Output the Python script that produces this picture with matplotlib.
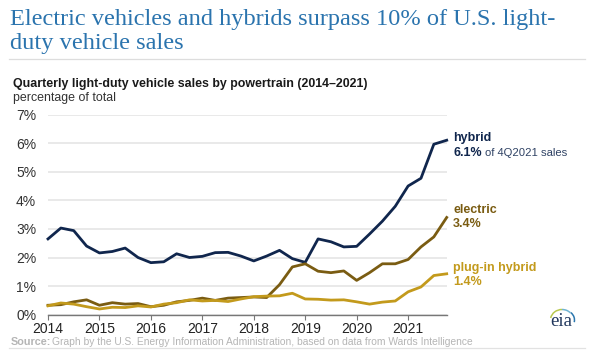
import numpy as np
import matplotlib
matplotlib.use("Agg")
import matplotlib.pyplot as plt
from matplotlib.patches import Arc

# quarterly share of light-duty sales, percent
quarters = [2014 + i * 0.25 for i in range(32)]
hybrid = [2.65, 3.03, 2.94, 2.40, 2.16, 2.21, 2.33, 2.00,
          1.82, 1.85, 2.13, 2.00, 2.04, 2.17, 2.18, 2.05,
          1.88, 2.05, 2.25, 1.96, 1.83, 2.65, 2.55, 2.37,
          2.39, 2.82, 3.27, 3.79, 4.50, 4.77, 5.96, 6.10]
electric = [0.33, 0.35, 0.45, 0.52, 0.33, 0.42, 0.37, 0.39,
            0.28, 0.33, 0.45, 0.50, 0.58, 0.50, 0.58, 0.60,
            0.62, 0.60, 1.05, 1.67, 1.78, 1.52, 1.47, 1.53,
            1.20, 1.47, 1.78, 1.78, 1.93, 2.37, 2.72, 3.40]
plugin = [0.31, 0.41, 0.37, 0.28, 0.20, 0.26, 0.25, 0.31,
          0.27, 0.37, 0.42, 0.52, 0.48, 0.50, 0.46, 0.55,
          0.63, 0.65, 0.66, 0.75, 0.55, 0.54, 0.51, 0.52,
          0.45, 0.37, 0.44, 0.48, 0.80, 0.97, 1.37, 1.43]
year_ticks = [2014, 2015, 2016, 2017, 2018, 2019, 2020, 2021]
pct_ticks = [0, 1, 2, 3, 4, 5, 6, 7]

NAVY = "#10264d"
BROWN = "#7a5c12"
GOLD = "#c39a1c"
W, H = 600, 353

plt.rcParams["font.family"] = ["Liberation Sans", "DejaVu Sans"]

fig = plt.figure(figsize=(W / 100, H / 100), dpi=100)
ax = fig.add_axes([48 / W, 1 - 314.7 / H, (446.7 - 48) / W, (314.7 - 114.5) / H])

# gridlines and axis
ax.set_xlim(2014, 2021.75)
ax.set_ylim(0, 7)
ax.set_yticks(pct_ticks)
ax.set_yticklabels([f"{p}%" for p in pct_ticks], fontsize=10, color="#333333")
ax.set_xticks(year_ticks)
ax.set_xticklabels([str(y) for y in year_ticks], fontsize=10, color="#222222")
ax.grid(axis="y", color="#e3e3e3", lw=1.1)
ax.set_axisbelow(True)
ax.tick_params(axis="y", length=0, pad=8.5)
ax.tick_params(axis="x", length=3.5, width=0.8, color="#777777", pad=2, direction="out")
for s in ["top", "left", "right"]:
    ax.spines[s].set_visible(False)
ax.spines["bottom"].set_color("#777777")
ax.spines["bottom"].set_linewidth(1.0)

# series
ax.plot(quarters, hybrid, color=NAVY, lw=2.0, clip_on=False, zorder=3)
ax.plot(quarters, electric, color=BROWN, lw=2.0, clip_on=False, zorder=4)
ax.plot(quarters, plugin, color=GOLD, lw=2.0, clip_on=False, zorder=5)

def put(x, y, s, **kw):
    # text placed by reference pixel position
    fig.text(x / W, 1 - y / H, s, va="baseline", **kw)

put(10, 24.5, "Electric vehicles and hybrids surpass 10% of U.S. light-", fontsize=17.6,
    family="Liberation Serif", color="#2b74ae")
put(10, 49.5, "duty vehicle sales", fontsize=17.6, family="Liberation Serif", color="#2b74ae")
fig.add_artist(plt.Line2D([9 / W, 585 / W], [1 - 59 / H] * 2, color="#dddddd", lw=0.9))

put(13, 86.5, "Quarterly light-duty vehicle sales by powertrain (2014\u20132021)",
    fontsize=8.95, fontweight="bold", color="#1a1a1a")
put(13, 100.5, "percentage of total", fontsize=8.95, color="#333333")

# direct labels
put(453, 141, "hybrid", fontsize=9, fontweight="bold", color=NAVY)
put(453, 156, "6.1%", fontsize=9, fontweight="bold", color=NAVY)
put(485, 156, "of 4Q2021 sales", fontsize=8.1, color="#2f4264")
put(453, 213, "electric", fontsize=9, fontweight="bold", color=BROWN)
put(453, 227, "3.4%", fontsize=9, fontweight="bold", color=BROWN)
put(453, 271, "plug-in hybrid", fontsize=9, fontweight="bold", color=GOLD)
put(453, 285, "1.4%", fontsize=9, fontweight="bold", color=GOLD)

# source line
put(10.5, 345, "Source:", fontsize=7.8, fontweight="bold", color="#b5b5b5")
put(52, 345, "Graph by the U.S. Energy Information Administration, based on data from Wards Intelligence",
    fontsize=7.4, color="#b5b5b5")
fig.add_artist(plt.Line2D([9 / W, 585 / W], [1 - 347.5 / H] * 2, color="#e2e2e2", lw=0.9))

# eia logo
put(550, 326, "eia", fontsize=13.5, family="Liberation Serif", color="#20365c")
logo = fig.add_axes([0, 0, 1, 1], facecolor="none")
logo.set_xlim(0, W)
logo.set_ylim(H, 0)
logo.axis("off")
logo.add_patch(Arc((562, 320), 23, 21, theta1=190, theta2=270, color="#b9c94f", lw=1.1))
logo.add_patch(Arc((562, 320), 23, 21, theta1=270, theta2=320, color="#6fb3d2", lw=1.1))
logo.add_patch(Arc((562, 320), 25, 21, theta1=320, theta2=370, color="#2b77ae", lw=1.1))

fig.savefig("out.png", dpi=100)
